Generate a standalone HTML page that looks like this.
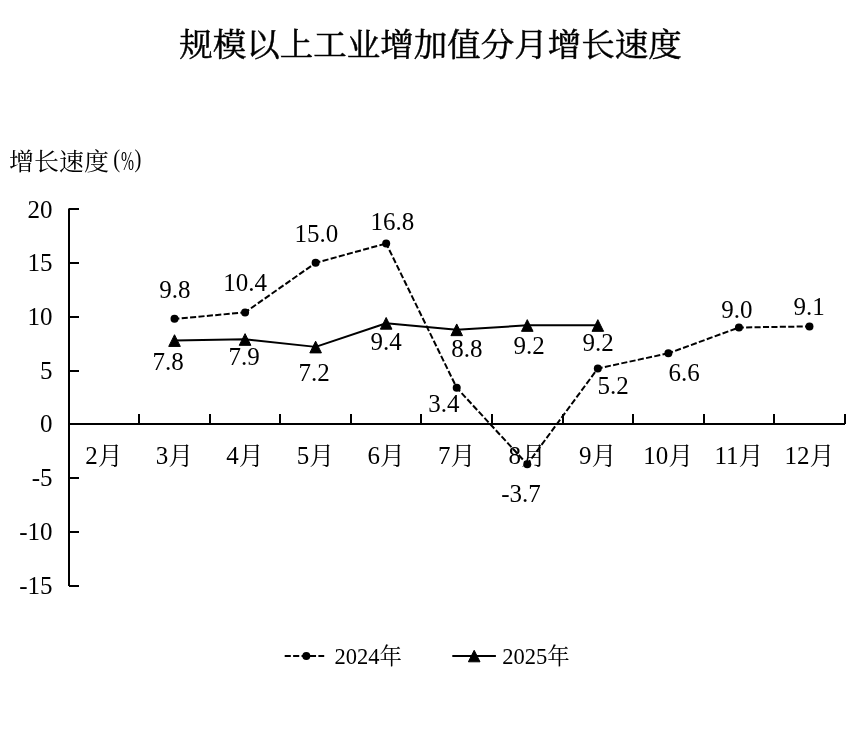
<!DOCTYPE html>
<html lang="zh-CN"><head><meta charset="utf-8"><title>规模以上工业增加值分月增长速度</title>
<style>
html,body{margin:0;padding:0;background:#fff;}
body{width:853px;height:753px;overflow:hidden;}
svg{display:block;}
text{font-family:"Liberation Serif","Noto Serif CJK SC",serif;fill:#000;}
.t{font-size:33.5px;font-weight:400;stroke:#000;stroke-width:0.5px;}
.l{font-size:25px;}
.g{font-size:22.5px;}
.m{stroke:#000;stroke-width:1;stroke-linejoin:round;}
.ax{stroke:#000;stroke-width:2;fill:none;}
.d{stroke:#000;stroke-width:2;fill:none;stroke-dasharray:6.1 2.32;stroke-dashoffset:1.22;}
.s{stroke:#000;stroke-width:2;fill:none;stroke-linejoin:round;}
</style></head><body>
<svg width="853" height="753" viewBox="0 0 853 753">
<rect width="853" height="753" fill="#fff"/>
<text class="t" transform="translate(430.5 56.3) scale(1 0.945)" text-anchor="middle">规模以上工业增加值分月增长速度</text>
<text class="l" transform="translate(9 169.6) scale(1 0.94)">增长速度</text>
<text class="l" transform="translate(113.2 167.3) scale(0.83 1)">(</text>
<text class="l" transform="translate(120.9 169.5) scale(0.625 1.12)">%</text>
<text class="l" transform="translate(134.6 167.3) scale(0.83 1)">)</text>
<g class="ax">
<path d="M69 208.5V586"/>
<path d="M69 424H845"/>
<path d="M69 209H79"/>
<path d="M69 263H79"/>
<path d="M69 317H79"/>
<path d="M69 371H79"/>
<path d="M69 478H79"/>
<path d="M69 532H79"/>
<path d="M69 586H79"/>
<path d="M139 424V414"/>
<path d="M210 424V414"/>
<path d="M280 424V414"/>
<path d="M351 424V414"/>
<path d="M421 424V414"/>
<path d="M492 424V414"/>
<path d="M563 424V414"/>
<path d="M633 424V414"/>
<path d="M704 424V414"/>
<path d="M774 424V414"/>
<path d="M845 424V414"/>
</g>
<text class="l" x="52.6" y="217.50" text-anchor="end">20</text>
<text class="l" x="52.6" y="271.23" text-anchor="end">15</text>
<text class="l" x="52.6" y="324.96" text-anchor="end">10</text>
<text class="l" x="52.6" y="378.69" text-anchor="end">5</text>
<text class="l" x="52.6" y="432.42" text-anchor="end">0</text>
<text class="l" x="52.6" y="486.15" text-anchor="end">-5</text>
<text class="l" x="52.6" y="539.88" text-anchor="end">-10</text>
<text class="l" x="52.6" y="593.61" text-anchor="end">-15</text>
<text class="l" x="103.97" y="464" text-anchor="middle">2<tspan dy="0.6">月</tspan></text>
<text class="l" x="174.52" y="464" text-anchor="middle">3<tspan dy="0.6">月</tspan></text>
<text class="l" x="245.07" y="464" text-anchor="middle">4<tspan dy="0.6">月</tspan></text>
<text class="l" x="315.62" y="464" text-anchor="middle">5<tspan dy="0.6">月</tspan></text>
<text class="l" x="386.17" y="464" text-anchor="middle">6<tspan dy="0.6">月</tspan></text>
<text class="l" x="456.72" y="464" text-anchor="middle">7<tspan dy="0.6">月</tspan></text>
<text class="l" x="527.27" y="464" text-anchor="middle">8<tspan dy="0.6">月</tspan></text>
<text class="l" x="597.83" y="464" text-anchor="middle">9<tspan dy="0.6">月</tspan></text>
<text class="l" x="668.38" y="464" text-anchor="middle">10<tspan dy="0.6">月</tspan></text>
<text class="l" x="738.93" y="464" text-anchor="middle">11<tspan dy="0.6">月</tspan></text>
<text class="l" x="809.48" y="464" text-anchor="middle">12<tspan dy="0.6">月</tspan></text>
<g class="d">
<path d="M174.52 318.87L245.07 312.41"/>
<path d="M245.07 312.41L315.62 262.87"/>
<path d="M315.62 262.87L386.17 243.48"/>
<path d="M386.17 243.48L456.72 387.81"/>
<path d="M456.72 387.81L527.27 464.28"/>
<path d="M527.27 464.28L597.83 368.42"/>
<path d="M597.83 368.42L668.38 353.34"/>
<path d="M668.38 353.34L738.93 327.49"/>
<path d="M738.93 327.49L809.48 326.41"/>
</g>
<circle cx="174.52" cy="318.87" r="4"/>
<circle cx="245.07" cy="312.41" r="4"/>
<circle cx="315.62" cy="262.87" r="4"/>
<circle cx="386.17" cy="243.48" r="4"/>
<circle cx="456.72" cy="387.81" r="4"/>
<circle cx="527.27" cy="464.28" r="4"/>
<circle cx="597.83" cy="368.42" r="4"/>
<circle cx="668.38" cy="353.34" r="4"/>
<circle cx="738.93" cy="327.49" r="4"/>
<circle cx="809.48" cy="326.41" r="4"/>
<polyline class="s" points="174.52,340.42 245.07,339.34 315.62,346.88 386.17,323.18 456.72,329.65 527.27,325.34 597.83,325.34"/>
<path class="m" d="M174.52 334.72L180.32 346.42H168.72Z"/>
<path class="m" d="M245.07 333.64L250.88 345.34H239.27Z"/>
<path class="m" d="M315.62 341.18L321.43 352.88H309.82Z"/>
<path class="m" d="M386.17 317.48L391.97 329.18H380.37Z"/>
<path class="m" d="M456.72 323.95L462.52 335.65H450.92Z"/>
<path class="m" d="M527.27 319.64L533.07 331.34H521.48Z"/>
<path class="m" d="M597.83 319.64L603.62 331.34H592.03Z"/>
<text class="l" x="174.80" y="297.50" text-anchor="middle">9.8</text>
<text class="l" x="245.20" y="291.00" text-anchor="middle">10.4</text>
<text class="l" x="316.30" y="242.00" text-anchor="middle">15.0</text>
<text class="l" x="392.40" y="230.00" text-anchor="middle">16.8</text>
<text class="l" x="443.80" y="412.00" text-anchor="middle">3.4</text>
<text class="l" x="521.00" y="502.00" text-anchor="middle">-3.7</text>
<text class="l" x="613.00" y="394.00" text-anchor="middle">5.2</text>
<text class="l" x="684.00" y="381.10" text-anchor="middle">6.6</text>
<text class="l" x="736.80" y="318.00" text-anchor="middle">9.0</text>
<text class="l" x="809.00" y="315.00" text-anchor="middle">9.1</text>
<text class="l" x="168.00" y="369.80" text-anchor="middle">7.8</text>
<text class="l" x="244.20" y="364.50" text-anchor="middle">7.9</text>
<text class="l" x="314.00" y="380.70" text-anchor="middle">7.2</text>
<text class="l" x="386.20" y="350.00" text-anchor="middle">9.4</text>
<text class="l" x="466.80" y="357.00" text-anchor="middle">8.8</text>
<text class="l" x="529.00" y="354.00" text-anchor="middle">9.2</text>
<text class="l" x="598.00" y="351.00" text-anchor="middle">9.2</text>
<path d="M284.7 656H324.2" fill="none" stroke="#000" stroke-width="2" stroke-dasharray="6.1 2.32"/>
<circle cx="306.3" cy="656" r="4"/>
<text class="g" x="334.4" y="664">2024年</text>
<path class="s" d="M452.3 656H495.9"/>
<path class="m" d="M474.2 650.3L480 661.8H468.4Z"/>
<text class="g" x="502.2" y="664">2025年</text>
</svg></body></html>
